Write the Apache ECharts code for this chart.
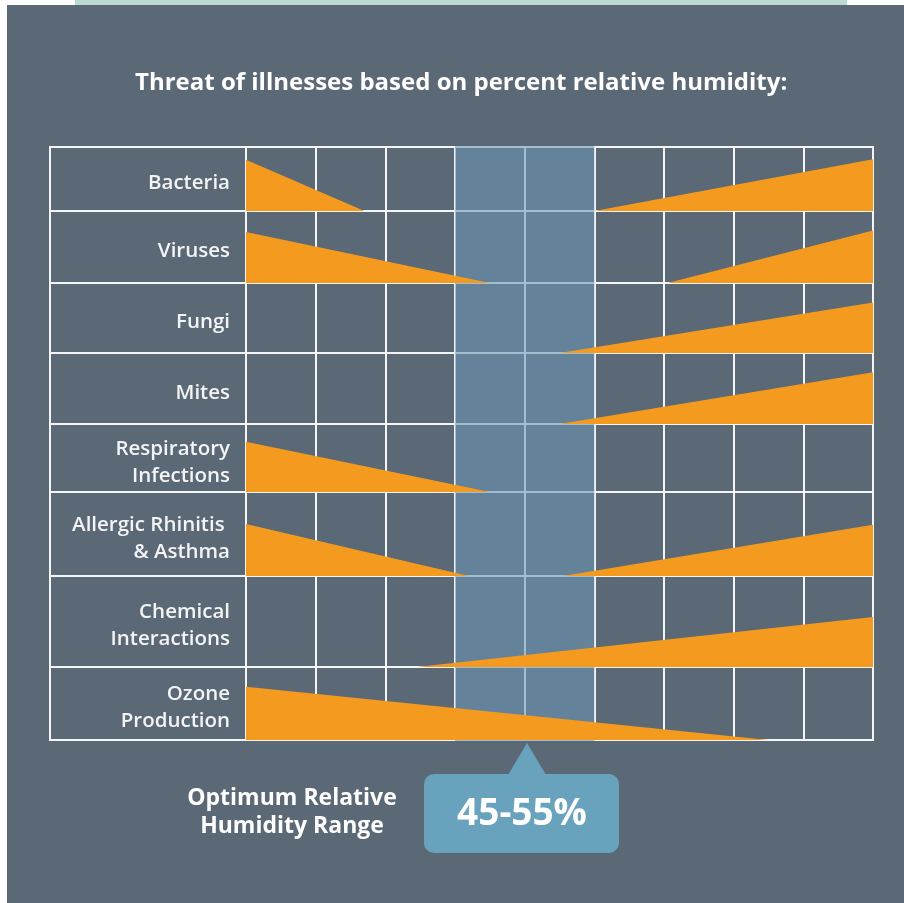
<!DOCTYPE html>
<html>
<head>
<meta charset="utf-8">
<script src="https://cdn.jsdelivr.net/npm/echarts@6/dist/echarts.min.js"></script>
<style>
  html, body { margin: 0; padding: 0; background: #fff; }
  #main { width: 904px; height: 903px; }
</style>
</head>
<body>
<div id="main"></div>
<script>
// illness rows, top to bottom
var illnesses = ['Bacteria', 'Viruses', 'Fungi', 'Mites', 'Respiratory\nInfections',
    'Allergic Rhinitis \n& Asthma', 'Chemical\nInteractions', 'Ozone\nProduction'];
// threat falling from low humidity: height at 10% and the humidity where it reaches zero
var fallTop = [0.80, 0.71, null, null, 0.74, 0.62, null, 0.73];
var fallEnd = [27, 45, null, null, 45, 42, null, 85];
// threat rising towards high humidity: humidity where it starts and height at 100%
var riseStart = [60, 70.5, 55, 55, null, 55.5, 34.5, null];
var riseTop = [0.81, 0.73, 0.72, 0.73, null, 0.61, 0.55, null];
// humidity scale and optimum band
var humidityMin = 10, humidityMax = 100, humidityStep = 10;
var optimum = [40, 60];
var optimumText = '45-55%';

// row edges in pixels (layout only)
var rowEdges = [147, 211, 283, 353, 424, 492, 576, 667, 740];
var gridLeft = 246, gridRight = 873;

var dom = document.getElementById('main');
var myChart = echarts.init(dom, null, { renderer: 'canvas' });

var grids = [], xAxes = [], yAxes = [], series = [];
var white = '#f2f4f5';
var orange = '#f49b1f';

illnesses.forEach(function (name, i) {
    grids.push({
        left: gridLeft, right: 904 - gridRight,
        top: rowEdges[i], height: rowEdges[i + 1] - rowEdges[i],
        show: true, borderColor: white, borderWidth: 2, backgroundColor: 'transparent'
    });
    xAxes.push({
        type: 'value', gridIndex: i, min: humidityMin, max: humidityMax, interval: humidityStep,
        axisLine: { show: false }, axisTick: { show: false }, axisLabel: { show: false },
        splitLine: { show: true, lineStyle: { color: white, width: 2 } }
    });
    yAxes.push({
        type: 'category', gridIndex: i, data: [name],
        axisLine: { show: false },
        axisTick: { show: true, length: gridLeft - 50, lineStyle: { color: white, width: 2 } },
        axisLabel: {
            margin: 16, align: 'right',
            // small empty first line nudges the text a little below the row centre
            formatter: function (v) {
                return '{s| }\n' + v.split('\n').map(function (l) { return '{t|' + l + '}'; }).join('\n');
            },
            rich: {
                s: { fontSize: 2, lineHeight: 9 },
                t: { color: '#f3f4f5', fontSize: 20.5, fontWeight: 600, lineHeight: 27,
                     fontFamily: 'Open Sans', align: 'right' }
            }
        },
        splitLine: { show: false }
    });
    yAxes.push({
        type: 'value', gridIndex: i, min: 0, max: 1, show: false
    });
    if (fallTop[i] != null) {
        series.push({
            type: 'line', xAxisIndex: i, yAxisIndex: 2 * i + 1, z: 3, silent: true,
            symbol: 'none', lineStyle: { opacity: 0 },
            areaStyle: { color: orange, opacity: 1 },
            data: [[humidityMin, fallTop[i]], [fallEnd[i], 0]]
        });
    }
    if (riseTop[i] != null) {
        series.push({
            type: 'line', xAxisIndex: i, yAxisIndex: 2 * i + 1, z: 3, silent: true,
            symbol: 'none', lineStyle: { opacity: 0 },
            areaStyle: { color: orange, opacity: 1 },
            data: [[riseStart[i], 0], [humidityMax, riseTop[i]]]
        });
    }
});

// full height grid for the optimum band
var bandIndex = illnesses.length;
grids.push({ left: gridLeft, right: 904 - gridRight, top: rowEdges[0] - 1, height: rowEdges[rowEdges.length - 1] - rowEdges[0] + 2 });
xAxes.push({ type: 'value', gridIndex: bandIndex, min: humidityMin, max: humidityMax, show: false, splitLine: { show: false } });
yAxes.push({ type: 'value', gridIndex: bandIndex, min: 0, max: 1, show: false, splitLine: { show: false } });
series.push({
    type: 'line', xAxisIndex: bandIndex, yAxisIndex: yAxes.length - 1, z: 2, silent: true,
    symbol: 'none', lineStyle: { opacity: 0 },
    areaStyle: { color: 'rgba(107,151,182,0.58)', opacity: 1 },
    data: [[optimum[0], 1], [optimum[1], 1]]
});

var option = {
    backgroundColor: '#5b6875',
    animation: false,
    title: {
        text: 'Threat of illnesses based on percent relative humidity:',
        left: 130, top: 66,
        textStyle: { color: '#ffffff', fontSize: 24, fontWeight: 'bold', fontFamily: 'Open Sans' }
    },
    grid: grids,
    xAxis: xAxes,
    yAxis: yAxes,
    series: series,
    graphic: [
        { type: 'rect', shape: { x: 0, y: 0, width: 7, height: 903 }, style: { fill: '#ffffff' }, silent: true },
        { type: 'rect', shape: { x: 0, y: 0, width: 904, height: 5 }, style: { fill: '#ffffff' }, silent: true },
        { type: 'rect', shape: { x: 75, y: 0, width: 772, height: 5 }, style: { fill: '#bcdad2' }, silent: true },
        // label column frame
        { type: 'rect', shape: { x: 50, y: rowEdges[0], width: gridLeft - 50, height: rowEdges[rowEdges.length - 1] - rowEdges[0] },
          style: { fill: 'none', stroke: white, lineWidth: 2 }, silent: true, z: 1 },
        // callout
        { type: 'polygon', shape: { points: [[508, 775], [527, 743], [546, 775]] }, style: { fill: '#69a2bd' }, silent: true },
        { type: 'rect', shape: { x: 424, y: 774, width: 195, height: 79, r: 10 }, style: { fill: '#69a2bd' }, silent: true },
        { type: 'text', x: 522, y: 814, silent: true,
          style: { text: optimumText, fill: '#ffffff', font: 'bold 37px "Open Sans"', align: 'center', verticalAlign: 'middle' } },
        { type: 'text', x: 292, y: 812, silent: true,
          style: { text: 'Optimum Relative\nHumidity Range', fill: '#ffffff', font: 'bold 23px "Open Sans"',
                   lineHeight: 28, align: 'center', verticalAlign: 'middle' } }
    ]
};

myChart.setOption(option);
</script>
</body>
</html>
